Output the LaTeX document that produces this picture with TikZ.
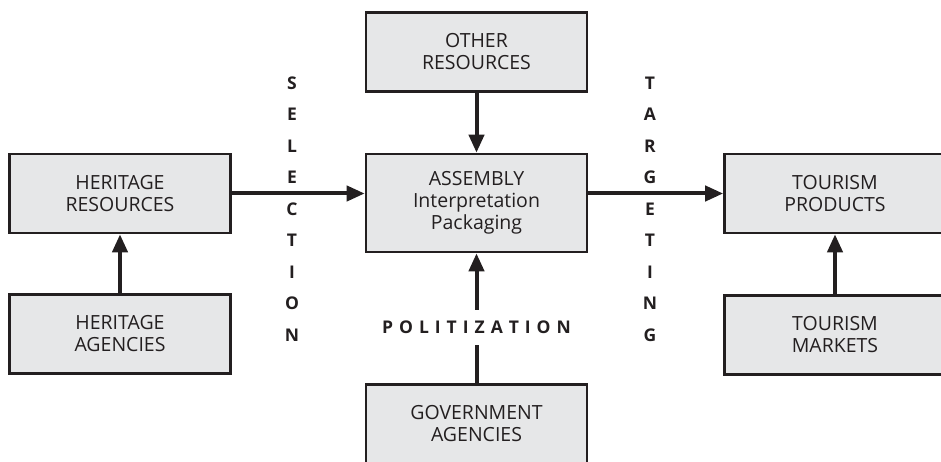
\documentclass[tikz,border=0pt]{standalone}
\usepackage{fontspec}
\setmainfont{Open Sans}
\usetikzlibrary{arrows.meta}
\definecolor{ink}{HTML}{231F20}
\definecolor{boxfill}{HTML}{E6E7E8}
\tikzset{
  stage/.style={draw=ink, line width=2.6pt, fill=boxfill, text=ink,
    minimum width=221pt, minimum height=79pt, inner sep=0pt, align=center,
    font=\fontsize{19.5}{22}\selectfont},
  flow/.style={draw=ink, line width=4pt, -{Triangle[length=18pt,width=15pt]}},
  plain/.style={draw=ink, line width=4pt},
  vlabel/.style={text=ink, align=center, inner sep=0pt,
    font=\fontsize{17.5}{31.5}\selectfont\bfseries},
}
\begin{document}
\begin{tikzpicture}[x=1pt,y=-1pt]
\useasboundingbox (0,0) rectangle (941,462);
\clip (0,0) rectangle (941,462);

% boxes
\node[stage] (hr) at (120,193.5) {HERITAGE\\RESOURCES};
\node[stage] (ha) at (120,334)   {HERITAGE\\AGENCIES};
\node[stage] (or) at (476.5,52)  {OTHER\\RESOURCES};
\node[stage, minimum height=98pt] (as) at (476.5,203)
  {ASSEMBLY\\Interpretation\\Packaging};
\node[stage] (ga) at (476.5,424) {GOVERNMENT\\AGENCIES};
\node[stage] (tp) at (835,193.5) {TOURISM\\PRODUCTS};
\node[stage] (tm) at (835,335)   {TOURISM\\MARKETS};

% process labels
\node[vlabel] (sel) at (292,209) {S\\E\\L\\E\\C\\T\\I\\O\\N};
\node[vlabel] (tar) at (650,209) {T\\A\\R\\G\\E\\T\\I\\N\\G};
\node[vlabel, minimum height=35pt] (pol) at (476.5,327.5)
  {P\kern6pt O\kern6pt L\kern6pt I\kern6pt T\kern6pt I\kern6pt Z\kern6pt A\kern6pt T\kern6pt I\kern6pt O\kern6pt N};

% connectors
\draw[flow] (ha) -- (hr);
\draw[flow] (tm) -- (tp);
\draw[flow] (or) -- (as);
\draw[flow] (hr.east) -- (as.west |- hr.east);
\draw[flow] (as.east |- tp.west) -- (tp.west);
\draw[plain] (ga.north) -- (pol.south);
\draw[flow] (pol.north) -- (as.south);
\end{tikzpicture}
\end{document}
